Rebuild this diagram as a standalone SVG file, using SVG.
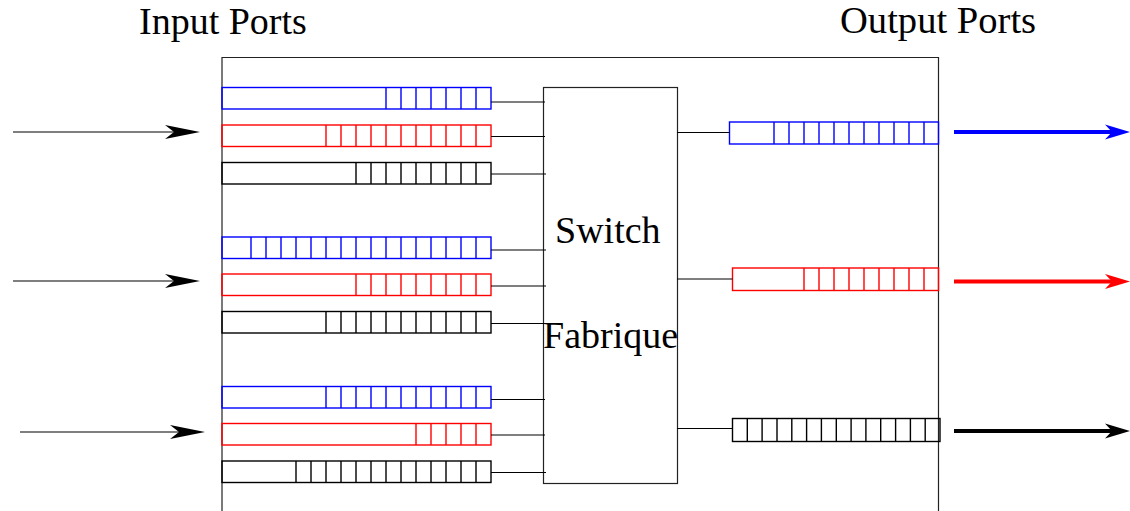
<svg xmlns="http://www.w3.org/2000/svg" xmlns:xlink="http://www.w3.org/1999/xlink" width="1130" height="511" viewBox="0 0 1130 511">
<style>
text{font-family:"Liberation Serif","Times New Roman",serif;font-size:38px;fill:#000}
.q{fill:none;stroke-width:1.4}
.b{stroke:#0000ff}
.r{stroke:#ff0000}
.k{stroke:#000}
.ln{fill:none;stroke:#000;stroke-width:1.2}
.box{fill:none;stroke:#222;stroke-width:1.2}
</style>
<defs>
<path id="headIn" d="M0 0 L-35 -7 L-26 0 L-35 7Z"/>
<path id="headOut" d="M0 0 L-25 -7.5 L-18 0 L-25 7.5Z"/>
</defs>
<rect width="1130" height="511" fill="#fff"/>
<text x="139" y="34">Input Ports</text>
<text x="840" y="33" style="font-size:38.6px">Output Ports</text>
<g id="frame"><path class="box" d="M222 511V57.5H938.5V511"/></g>
<g id="switch">
<rect class="box" x="543.5" y="87.5" width="134" height="396"/>
<text x="555" y="243">Switch</text>
<text x="543" y="348">Fabrique</text>
</g>
<g id="in1">
<rect class="q b" x="222" y="87.5" width="269" height="21.5"/>
<path class="q b" d="M386 87.5V109M401 87.5V109M416 87.5V109M431 87.5V109M446 87.5V109M461 87.5V109M476 87.5V109"/>
<rect class="q r" x="222" y="125" width="269" height="21.5"/>
<path class="q r" d="M326 125V146.5M341 125V146.5M356 125V146.5M371 125V146.5M386 125V146.5M401 125V146.5M416 125V146.5M431 125V146.5M446 125V146.5M461 125V146.5M476 125V146.5"/>
<rect class="q k" x="222" y="162.5" width="269" height="21.5"/>
<path class="q k" d="M356 162.5V184M371 162.5V184M386 162.5V184M401 162.5V184M416 162.5V184M431 162.5V184M446 162.5V184M461 162.5V184M476 162.5V184"/>
</g>
<g id="in2">
<rect class="q b" x="222" y="237" width="269" height="21.5"/>
<path class="q b" d="M251 237V258.5M266 237V258.5M281 237V258.5M296 237V258.5M311 237V258.5M326 237V258.5M341 237V258.5M356 237V258.5M371 237V258.5M386 237V258.5M401 237V258.5M416 237V258.5M431 237V258.5M446 237V258.5M461 237V258.5M476 237V258.5"/>
<rect class="q r" x="222" y="274" width="269" height="21.5"/>
<path class="q r" d="M356 274V295.5M371 274V295.5M386 274V295.5M401 274V295.5M416 274V295.5M431 274V295.5M446 274V295.5M461 274V295.5M476 274V295.5"/>
<rect class="q k" x="222" y="311.5" width="269" height="21.5"/>
<path class="q k" d="M326 311.5V333M341 311.5V333M356 311.5V333M371 311.5V333M386 311.5V333M401 311.5V333M416 311.5V333M431 311.5V333M446 311.5V333M461 311.5V333M476 311.5V333"/>
</g>
<g id="in3">
<rect class="q b" x="222" y="386.5" width="269" height="21.5"/>
<path class="q b" d="M326 386.5V408M341 386.5V408M356 386.5V408M371 386.5V408M386 386.5V408M401 386.5V408M416 386.5V408M431 386.5V408M446 386.5V408M461 386.5V408M476 386.5V408"/>
<rect class="q r" x="222" y="423.5" width="269" height="21.5"/>
<path class="q r" d="M416 423.5V445M431 423.5V445M446 423.5V445M461 423.5V445M476 423.5V445"/>
<rect class="q k" x="222" y="461" width="269" height="21.5"/>
<path class="q k" d="M296 461V482.5M311 461V482.5M326 461V482.5M341 461V482.5M356 461V482.5M371 461V482.5M386 461V482.5M401 461V482.5M416 461V482.5M431 461V482.5M446 461V482.5M461 461V482.5M476 461V482.5"/>
</g>
<g id="out1">
<rect class="q b" x="729.5" y="122" width="209" height="22"/>
<path class="q b" d="M774 122V144M789 122V144M804 122V144M819 122V144M834 122V144M849 122V144M864 122V144M879 122V144M894 122V144M909 122V144M924 122V144"/>
</g>
<g id="out2">
<rect class="q r" x="732.5" y="268" width="206" height="22.5"/>
<path class="q r" d="M804 268V290.5M819 268V290.5M834 268V290.5M849 268V290.5M864 268V290.5M879 268V290.5M894 268V290.5M909 268V290.5M924 268V290.5"/>
</g>
<g id="out3">
<rect class="q k" x="732.5" y="418.5" width="207.5" height="23"/>
<path class="q k" d="M747.3 418.5V441.5M762.1 418.5V441.5M777 418.5V441.5M791.8 418.5V441.5M806.6 418.5V441.5M821.4 418.5V441.5M836.3 418.5V441.5M851.1 418.5V441.5M865.9 418.5V441.5M880.7 418.5V441.5M895.6 418.5V441.5M910.4 418.5V441.5M925.2 418.5V441.5"/>
</g>
<g id="connectors">
<path class="ln" d="M491 102H545M491 136.5H545M491 174H546M491 250H546M491 286H546M491 323.5H545M491 399.5H545M491 435H545M491 472.5H546"/>
<path class="ln" d="M677 132.5H729.5M677 279H732.5M677 428.5H732.5"/>
<path class="ln" stroke-width="1.5" d="M13 132H180M13 281H180M20 432H185"/>
<use xlink:href="#headIn" x="200" y="132" fill="#000"/>
<use xlink:href="#headIn" x="200" y="281" fill="#000"/>
<use xlink:href="#headIn" x="205" y="432" fill="#000"/>
<path fill="none" stroke="#0000ff" stroke-width="3.8" d="M954 132H1115"/>
<path fill="none" stroke="#ff0000" stroke-width="3.8" d="M954 281.5H1115"/>
<path fill="none" stroke="#000" stroke-width="3.8" d="M954 431H1115"/>
<use xlink:href="#headOut" x="1130" y="132" fill="#0000ff"/>
<use xlink:href="#headOut" x="1130" y="281.5" fill="#ff0000"/>
<use xlink:href="#headOut" x="1130" y="431" fill="#000"/>
</g>
</svg>
